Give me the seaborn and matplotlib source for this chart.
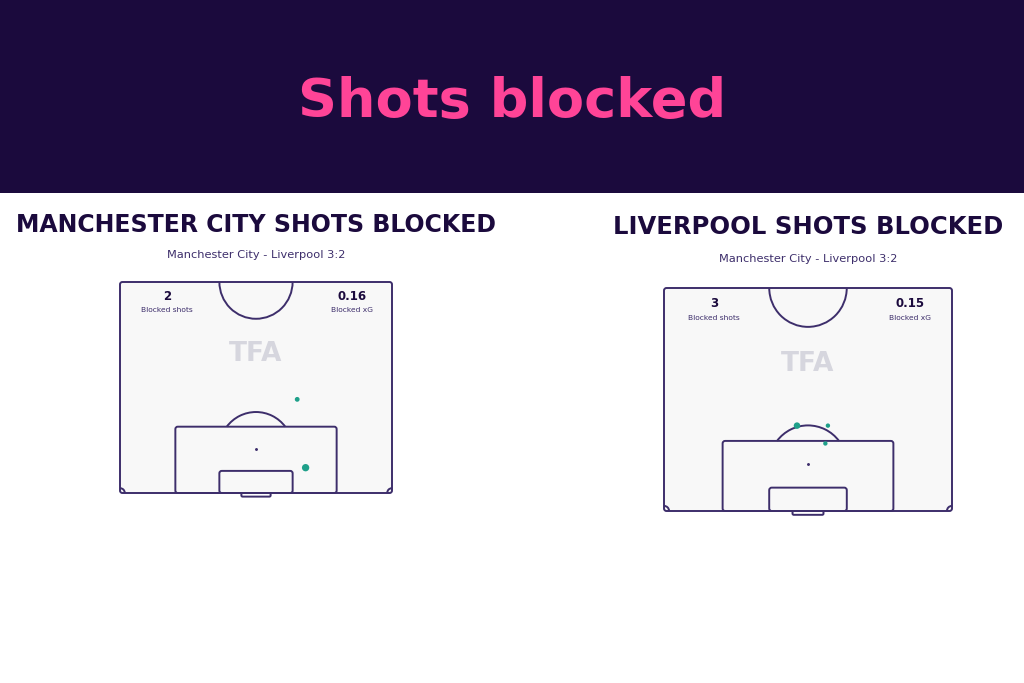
import numpy as np
import pandas as pd
import seaborn as sns
import matplotlib.pyplot as plt
from matplotlib.patches import Rectangle, Arc, FancyBboxPatch

# data
teams = ["MANCHESTER CITY", "LIVERPOOL"]
match_label = "Manchester City - Liverpool 3:2"
blocked_shots = [2, 3]
blocked_xg = [0.16, 0.15]
# shot locations: x across pitch (0-68), y = distance from goal line (m)
city_x = [44.3, 46.4]
city_y = [23.3, 6.3]
city_xg = [0.04, 0.12]
pool_x = [31.4, 38.7, 38.1]
pool_y = [20.1, 20.1, 15.9]
pool_xg = [0.09, 0.03, 0.03]

navy = "#1b0a3d"
pink = "#ff4497"
line = "#3d2e6b"
teal = "#1fa08a"
grass = "#f8f8f8"

sns.set_theme(style="white")
plt.rcParams['font.family'] = ['DejaVu Sans']

fig = plt.figure(figsize=(10.24, 6.83), dpi=100)
fig.patch.set_facecolor("white")

# banner
fig.patches.append(Rectangle((0, 1 - 193 / 683), 1, 193 / 683, transform=fig.transFigure,
                             facecolor=navy, edgecolor="none", zorder=0))
fig.text(0.5, 1 - 102 / 683, "Shots blocked", color=pink, fontsize=39, fontweight="bold",
         ha="center", va="center")


def draw_pitch(ax):
    ax.set_xlim(0, 68)
    ax.set_ylim(0, 52.5)
    ax.set_facecolor(grass)
    lw = 1.4
    kw = dict(fill=False, edgecolor=line, lw=lw, joinstyle="round", clip_on=False)
    ax.add_patch(FancyBboxPatch((0, 0), 68, 52.5, boxstyle="round,pad=0,rounding_size=0.6", **kw))
    ax.add_patch(FancyBboxPatch((13.84, 0), 40.32, 16.5, boxstyle="round,pad=0,rounding_size=0.6", **kw))
    ax.add_patch(FancyBboxPatch((24.84, 0), 18.32, 5.5, boxstyle="round,pad=0,rounding_size=0.6", **kw))
    ax.add_patch(FancyBboxPatch((30.34, -0.9), 7.32, 0.9, boxstyle="round,pad=0,rounding_size=0.3", **kw))
    ax.add_patch(Arc((34, 52.5), 18.3, 18.3, theta1=180, theta2=360, color=line, lw=lw))
    ax.add_patch(Arc((34, 11), 18.3, 18.3, theta1=37, theta2=143, color=line, lw=lw))
    ax.add_patch(Arc((0, 0), 2.4, 2.4, theta1=0, theta2=90, color=line, lw=lw))
    ax.add_patch(Arc((68, 0), 2.4, 2.4, theta1=90, theta2=180, color=line, lw=lw))
    ax.scatter([34], [11], s=1.2, color=line, zorder=3)
    ax.set_xticks([])
    ax.set_yticks([])
    for s in ax.spines.values():
        s.set_visible(False)
    ax.text(34, 34.5, "TFA", color="#d6d6de", fontsize=19, fontweight="bold",
            ha="center", va="center", zorder=1)


panels = [
    dict(team=teams[0], n=blocked_shots[0], xg=blocked_xg[0],
         df=pd.DataFrame({"x": city_x, "y": city_y, "xG": city_xg}),
         box=(120, 282, 392, 493), title_y=225, sub_y=255, cx=256, fs=17),
    dict(team=teams[1], n=blocked_shots[1], xg=blocked_xg[1],
         df=pd.DataFrame({"x": pool_x, "y": pool_y, "xG": pool_xg}),
         box=(664, 288, 952, 511), title_y=227, sub_y=259, cx=808, fs=17.5),
]

for p in panels:
    x0, y0, x1, y1 = p["box"]
    ax = fig.add_axes([x0 / 1024, 1 - y1 / 683, (x1 - x0) / 1024, (y1 - y0) / 683])
    draw_pitch(ax)
    sns.scatterplot(data=p["df"], x="x", y="y", size="xG", sizes=(10, 28), size_norm=(0.03, 0.12),
                    color=teal, edgecolor="none", legend=False, ax=ax, zorder=4)
    ax.set_xlabel("")
    ax.set_ylabel("")
    ax.text(11.8, 48.8, str(p["n"]), color=navy, fontsize=8.5, fontweight="bold", ha="center", va="center")
    ax.text(11.8, 45.5, "Blocked shots", color=line, fontsize=5.4, ha="center", va="center")
    ax.text(58, 48.8, f"{p['xg']:.2f}", color=navy, fontsize=8.5, fontweight="bold", ha="center", va="center")
    ax.text(58, 45.5, "Blocked xG", color=line, fontsize=5.4, ha="center", va="center")
    fig.text(p["cx"] / 1024, 1 - p["title_y"] / 683, f"{p['team']} SHOTS BLOCKED", color=navy,
             fontsize=p["fs"], fontweight="heavy", ha="center", va="center")
    fig.text(p["cx"] / 1024, 1 - p["sub_y"] / 683, match_label, color=line,
             fontsize=8.2, ha="center", va="center")

fig.savefig("out.png", dpi=100, facecolor="white")
